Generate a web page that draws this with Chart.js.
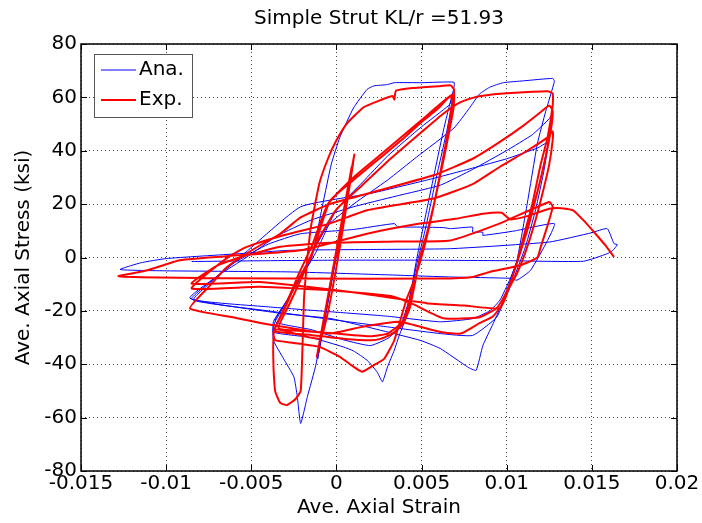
<!DOCTYPE html>
<html>
<head>
<meta charset="utf-8">
<script src="https://cdn.jsdelivr.net/npm/chart.js@4.4.0/dist/chart.umd.min.js"></script>
<style>
  html, body { margin: 0; padding: 0; background: #fff; }
  #plot { display: block; }
</style>
</head>
<body>
<canvas id="plot" width="702" height="523"></canvas>
<script>
// ── Hysteresis data: [average axial strain, average axial stress (ksi)] ──

// Analytical model (Ana.)
const anaElastic = [
  [0, 0], [0.0010, 36], [-0.0011, -38], [0.0009, 33], [-0.0012, -40]
];
const anaBuckle = [
  [-0.0017, -52], [-0.0021, -62.2], [-0.0023, -52], [-0.0025, -44.7], [-0.0031, -38],
  [-0.0037, -31], [-0.0037, -24]
];
const anaCycle1 = [
  [-0.0030, -17], [-0.0022, -8], [-0.0015, -1], [-0.0008, 20], [-0.0003, 35], [0.0002, 45],
  [0.0010, 56], [0.0018, 63], [0.0022, 64.3], [0.0030, 64.8], [0.0034, 65.5], [0.0050, 65.5],
  [0.0069, 65.7], [0.0069, 63.6], [0.0066, 56], [0.0063, 48.1], [0.0058, 33], [0.0053, 17.7],
  [0.0047, -1], [0.0044, -12], [0.0041, -22.3], [0.0037, -29], [0.0034, -34.7], [0.0030, -41],
  [0.0027, -46.6], [0.0024, -43], [0.0018, -38.5], [0.0010, -35], [0.0004, -33.5],
  [-0.0015, -30], [-0.0037, -28]
];
const anaCycle2 = [
  [-0.0036, -24], [-0.0025, -12], [-0.0012, 2], [0.0000, 18], [0.0015, 28], [0.0030, 38],
  [0.0050, 49], [0.0066, 57], [0.0068, 59], [0.0065, 48], [0.0058, 28], [0.0052, 10],
  [0.0047, -3], [0.0043, -15], [0.0038, -25], [0.0031, -30], [0.0020, -33], [0.0005, -31],
  [-0.0015, -27], [-0.0036, -24]
];
const anaCycle3 = [
  [-0.0028, -15], [-0.0018, -3], [-0.0005, 12], [0.0010, 20], [0.0030, 29], [0.0047, 37.6],
  [0.0069, 48.5], [0.0078, 55.9], [0.0084, 61.2], [0.0090, 63.8], [0.0098, 65.5], [0.0110, 66.2],
  [0.0127, 67.1], [0.0128, 66], [0.0123, 55], [0.0118, 42.6], [0.0112, 20], [0.0106, -1],
  [0.0098, -16], [0.0092, -24.8], [0.0086, -33], [0.0082, -42.3], [0.0077, -41], [0.0061, -34.1],
  [0.0049, -31], [0.0014, -25.4], [-0.0004, -22.8], [-0.0033, -20.9], [-0.0086, -15.3]
];
const anaCycle4 = [
  [-0.0070, -7], [-0.0053, 0], [-0.0035, 8], [-0.0015, 14], [0.0010, 19], [0.0035, 23],
  [0.0061, 27.1], [0.0080, 33], [0.0100, 40.1], [0.0115, 46], [0.0125, 52], [0.0127, 54],
  [0.0125, 45], [0.0120, 30], [0.0114, 15], [0.0108, 2], [0.0102, -8], [0.0096, -16],
  [0.0090, -20], [0.0080, -22.9], [0.0061, -24.1], [0.0030, -22], [0.0000, -20.5],
  [-0.0040, -18.5], [-0.0085, -15.6]
];
const anaCycle5 = [
  [-0.0072, -8], [-0.0055, 1], [-0.0021, 19], [0.0020, 24], [0.0053, 29], [0.0080, 33.5],
  [0.0100, 37], [0.0118, 41], [0.0124, 43], [0.0122, 33], [0.0117, 18], [0.0111, 4],
  [0.0104, -8], [0.0098, -17], [0.0094, -22.5], [0.0080, -29.2], [0.0061, -28.5],
  [0.0030, -26], [0.0000, -23.5], [-0.0040, -20], [-0.0084, -16]
];
const anaCycle6 = [
  [-0.0075, -10], [-0.0060, -2], [-0.0040, 5], [-0.0021, 8.9], [0.0010, 10.5], [0.0034, 12.7],
  [0.0036, 11.5], [0.0050, 11.4], [0.0063, 11.2], [0.0067, 10.8], [0.0080, 11.4], [0.0080, 9.5],
  [0.0086, 9.5], [0.0086, 8.3], [0.0105, 10], [0.0128, 12.7], [0.0124, 6.4], [0.0114, -4.8],
  [0.0106, -8.5], [0.0102, -7.8], [0.0067, -7.3], [0.0030, -6.5], [-0.0027, -5.4],
  [-0.0100, -5], [-0.0127, -4.5]
];
const anaFinal = [
  [-0.0115, -2], [-0.0100, -0.4], [-0.0058, 1.4], [-0.0027, 2.7], [0.0020, 3], [0.0067, 3.3],
  [0.0125, 5.8], [0.0150, 9.3], [0.0159, 10.8], [0.0163, 5.2], [0.0165, 4.8], [0.0162, 2.5],
  [0.0159, 1.4], [0.0145, -1.4], [0.0100, -1.2], [0.0050, -1], [0.0000, -1], [-0.0040, -1.2],
  [-0.0085, -1.5]
];

// Test record (Exp.)
const expElastic = [
  [0, 0], [0.00105, 38.5], [-0.00115, -37.2], [0.0009, 34], [-0.0011, -35.5], [0.0010, 36.5],
  [-0.0009, -30]
];
const expCycle1 = [
  [-0.0036, -27], [-0.0037, -40], [-0.0036, -50], [-0.0033, -54.5], [-0.0029, -55.3],
  [-0.0024, -53], [-0.0021, -50], [-0.0020, -35], [-0.0019, -15], [-0.0017, 0], [-0.0015, 11.4],
  [-0.0010, 27.8], [-0.0005, 37], [0.0000, 43.9], [0.0006, 50.1], [0.0016, 56.3], [0.0026, 59],
  [0.0033, 60.5], [0.0034, 59.2], [0.0035, 62.5], [0.0045, 63.5], [0.0060, 64.2], [0.0067, 64.5],
  [0.0069, 63], [0.0069, 58], [0.0065, 45], [0.0060, 28], [0.0054, 11], [0.0049, 0],
  [0.0046, -10], [0.0043, -19], [0.0039, -25], [0.0033, -28.5], [0.0026, -30.5], [0.0020, -31],
  [0.0005, -30.5], [-0.0015, -29], [-0.0036, -27.5]
];
const expCycle2 = [
  [-0.0031, -20], [-0.0024, -10], [-0.0015, 0], [-0.0004, 21], [0.0010, 29], [0.0026, 37.5],
  [0.0040, 45], [0.0050, 50.8], [0.0060, 56], [0.0067, 60.6], [0.0068, 58], [0.0064, 42],
  [0.0058, 22], [0.0052, 5], [0.0046, -8], [0.0041, -16], [0.0034, -31], [0.0028, -38],
  [0.0022, -40.3], [0.0015, -42.8], [0.0008, -40], [0.0002, -37.2], [-0.0010, -33.5],
  [-0.0025, -32], [-0.0036, -31], [-0.0037, -28]
];
const expCycle3 = [
  [-0.0030, -18], [-0.0022, -6], [-0.0014, 5], [-0.0005, 20], [0.0010, 30], [0.0025, 38],
  [0.0050, 51.5], [0.0068, 61], [0.0069, 57], [0.0064, 40], [0.0058, 22], [0.0052, 6],
  [0.0048, -3], [0.0044, -14], [0.0039, -24], [0.0030, -28.5], [0.0020, -29.5], [0.0000, -28.5],
  [-0.0020, -27.5], [-0.0034, -26.5]
];
const expCycle4 = [
  [-0.0028, -18], [-0.0020, -7], [-0.0012, 5], [0.0000, 18], [0.0015, 27], [0.0030, 36],
  [0.0050, 47], [0.0062, 53.5], [0.0071, 57.6], [0.0080, 59.8], [0.0087, 60.7], [0.0100, 61.5],
  [0.0115, 62.1], [0.0124, 62.3], [0.0127, 61.5], [0.0127, 57], [0.0124, 45], [0.0120, 35],
  [0.0115, 20], [0.0110, 8], [0.0106, -2], [0.0102, -10], [0.0098, -17], [0.0092, -22],
  [0.0084, -24.6], [0.0073, -28.5], [0.0061, -27.9], [0.0037, -24.1], [0.0015, -26],
  [-0.0004, -28.5], [-0.0037, -25.4], [-0.0060, -22.5], [-0.0086, -19.1]
];
const expCycle5 = [
  [-0.0075, -11], [-0.0065, -4], [-0.0056, 0.2], [-0.0045, 4.5], [-0.0033, 8.9], [-0.0021, 15],
  [-0.0004, 20], [0.0018, 23.9], [0.0057, 30.8], [0.0080, 37], [0.0096, 43.3], [0.0110, 49.5],
  [0.0120, 54.5], [0.0125, 57], [0.0127, 55], [0.0126, 48], [0.0122, 35], [0.0117, 22],
  [0.0112, 10], [0.0107, 0], [0.0103, -8], [0.0099, -14], [0.0094, -19], [0.0084, -22.4],
  [0.0063, -22.8], [0.0045, -17.5], [0.0033, -14.6], [0.0000, -12.5], [-0.0045, -11],
  [-0.0085, -11.6]
];
const expCycle6 = [
  [-0.0072, -4], [-0.0062, 0.8], [-0.0053, 3.9], [-0.0030, 8.5], [-0.0004, 12.7], [0.0018, 17.7],
  [0.0057, 22.1], [0.0080, 27.5], [0.0096, 34], [0.0112, 40], [0.0124, 45], [0.0127, 47.3],
  [0.0127, 44], [0.0125, 35], [0.0121, 24], [0.0116, 12], [0.0111, 2], [0.0106, -6],
  [0.0100, -13], [0.0096, -19], [0.0075, -18], [0.0053, -17.1], [0.0014, -13.4],
  [-0.0045, -9.2], [-0.0085, -9.8]
];
const expCycle7 = [
  [-0.0070, -3], [-0.0056, 0.2], [-0.0033, 4], [-0.0004, 5.5], [0.0035, 6], [0.0067, 6.4],
  [0.0095, 12.5], [0.0125, 20.8], [0.0127, 19], [0.0124, 12], [0.0120, 4], [0.0118, 0],
  [0.0108, -2.9], [0.0090, -5.4], [0.0080, -7.3], [0.0061, -7.9], [-0.0027, -7.9],
  [-0.0105, -7.5], [-0.0128, -7]
];
const expFinal = [
  [-0.0111, -4.8], [-0.0092, -1], [-0.0058, 0.8], [-0.0021, 2.7], [0.0018, 8.9], [0.0049, 12.7],
  [0.0070, 14.5], [0.0086, 16.4], [0.0097, 16.8], [0.0102, 14.3], [0.0112, 15.5], [0.0125, 18.3],
  [0.0132, 18.5], [0.0139, 17.7], [0.0145, 14], [0.0152, 9], [0.0158, 4.5], [0.0163, 0.2]
];

// Axis ticks
const strainTicks = [-0.015, -0.01, -0.005, 0, 0.005, 0.01, 0.015, 0.02];
const strainLabels = ['-0.015', '-0.01', '-0.005', '0', '0.005', '0.01', '0.015', '0.02'];
const stressTicks = [-80, -60, -40, -20, 0, 20, 40, 60, 80];
const stressLabels = ['-80', '-60', '-40', '-20', '0', '20', '40', '60', '80'];

const anaPath = [].concat(anaElastic, anaBuckle, anaCycle1, anaCycle2, anaCycle3,
  anaCycle4, anaCycle5, anaCycle6, anaFinal);
const expPath = [].concat(expElastic, expCycle1, expCycle2, expCycle3, expCycle4,
  expCycle5, expCycle6, expCycle7, expFinal);

const toXY = pts => pts.map(([x, y]) => ({ x, y }));

const FONT = '"DejaVu Sans", "Liberation Sans", Arial, sans-serif';
const fontOf = size => ({ family: FONT, size: size, weight: 'normal' });

// box around the axes, inward tick marks, and the legend in the upper left
const axesFrame = {
  id: 'axesFrame',
  afterDraw(chart) {
    const { ctx, chartArea: a, scales: { x, y } } = chart;
    ctx.save();
    ctx.strokeStyle = '#000';
    ctx.lineWidth = 1;
    ctx.beginPath();
    x.ticks.forEach(t => {
      const px = Math.round(x.getPixelForValue(t.value)) + 0.5;
      ctx.moveTo(px, a.bottom); ctx.lineTo(px, a.bottom - 6);
      ctx.moveTo(px, a.top); ctx.lineTo(px, a.top + 6);
    });
    y.ticks.forEach(t => {
      const py = Math.round(y.getPixelForValue(t.value)) + 0.5;
      ctx.moveTo(a.left, py); ctx.lineTo(a.left + 6, py);
      ctx.moveTo(a.right, py); ctx.lineTo(a.right - 6, py);
    });
    ctx.stroke();
    ctx.lineWidth = 1.5;
    ctx.strokeRect(a.left, a.top, a.right - a.left, a.bottom - a.top);

    // legend
    const bx = a.left + 13, by = a.top + 10, bw = 98, bh = 63;
    ctx.fillStyle = '#fff';
    ctx.fillRect(bx, by, bw, bh);
    ctx.strokeStyle = '#555';
    ctx.lineWidth = 1;
    ctx.strokeRect(bx + 0.5, by + 0.5, bw, bh);
    ctx.font = '20px ' + FONT;
    ctx.textBaseline = 'middle';
    ctx.textAlign = 'left';
    chart.data.datasets.forEach((ds, i) => {
      const ly = by + 16 + i * 30;
      ctx.strokeStyle = ds.borderColor;
      ctx.lineWidth = ds.borderWidth;
      ctx.beginPath();
      ctx.moveTo(bx + 7, ly);
      ctx.lineTo(bx + 42, ly);
      ctx.stroke();
      ctx.fillStyle = '#000';
      ctx.fillText(ds.label, bx + 45, ly);
    });
    ctx.restore();
  }
};

new Chart(document.getElementById('plot'), {
  type: 'scatter',
  data: {
    datasets: [
      {
        label: 'Ana.',
        data: toXY(anaPath),
        showLine: true,
        borderColor: '#0000ff',
        borderWidth: 1,
        borderJoinStyle: 'round',
        tension: 0.15,
        pointRadius: 0,
        order: 1
      },
      {
        label: 'Exp.',
        data: toXY(expPath),
        showLine: true,
        borderColor: '#ff0000',
        borderWidth: 2,
        borderJoinStyle: 'round',
        tension: 0.15,
        pointRadius: 0,
        order: 0
      }
    ]
  },
  options: {
    responsive: false,
    animation: false,
    devicePixelRatio: 1,
    events: [],
    layout: { padding: { left: 0, right: 25, top: 0, bottom: 0 } },
    plugins: {
      legend: { display: false },
      tooltip: { enabled: false },
      title: {
        display: true,
        text: 'Simple Strut KL/r =51.93',
        fullSize: false,
        color: '#000',
        font: fontOf(20),
        padding: { top: 6.5, bottom: 13.5 }
      }
    },
    scales: {
      x: {
        type: 'linear',
        min: -0.015,
        max: 0.02,
        afterBuildTicks: s => { s.ticks = strainTicks.map(v => ({ value: v })); },
        afterFit: s => { s.height = 52; },
        ticks: {
          callback: (v, i) => strainLabels[i],
          color: '#000',
          font: fontOf(20),
          padding: 1,
          maxRotation: 0,
          autoSkip: false
        },
        grid: { color: '#444', lineWidth: 1, drawTicks: false },
        border: { display: false, dash: [1, 3] },
        title: {
          display: true,
          text: 'Ave. Axial Strain',
          color: '#000',
          font: fontOf(20),
          padding: { top: 0, bottom: 3 }
        }
      },
      y: {
        type: 'linear',
        min: -80,
        max: 80,
        afterBuildTicks: s => { s.ticks = stressTicks.map(v => ({ value: v })); },
        afterFit: s => { s.width = 81; },
        ticks: {
          callback: (v, i) => stressLabels[i],
          color: '#000',
          font: fontOf(20),
          padding: 4,
          autoSkip: false
        },
        grid: { color: '#444', lineWidth: 1, drawTicks: false },
        border: { display: false, dash: [1, 3] },
        title: {
          display: true,
          text: 'Ave. Axial Stress (ksi)',
          color: '#000',
          font: fontOf(20),
          padding: { top: 12, bottom: 0 }
        }
      }
    }
  },
  plugins: [axesFrame]
});
</script>
</body>
</html>
